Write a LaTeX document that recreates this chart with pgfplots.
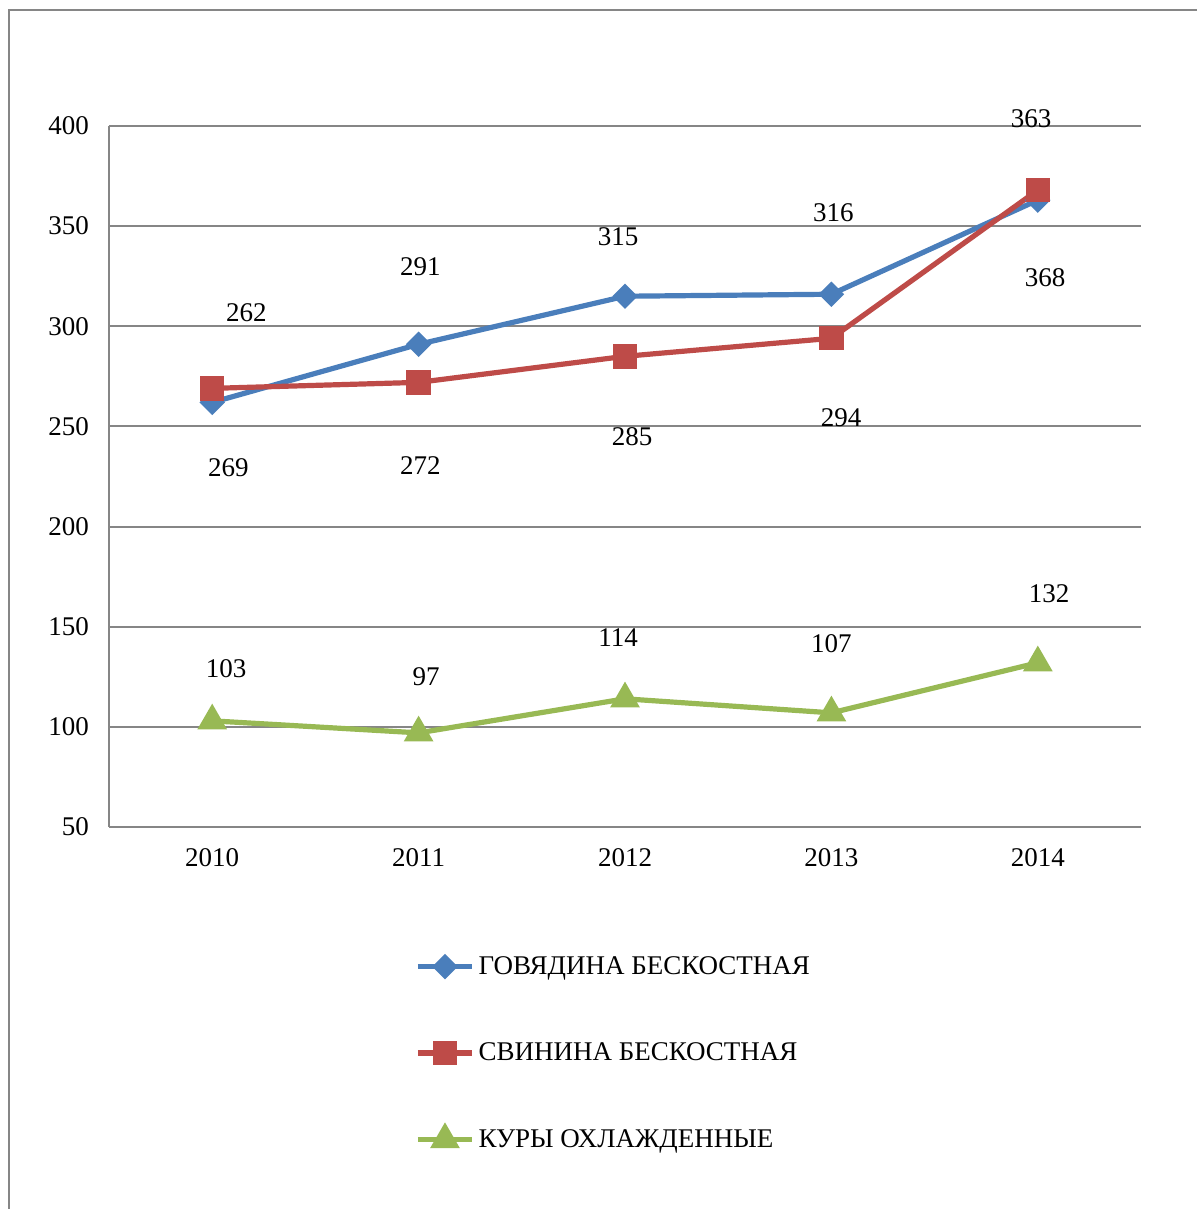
\documentclass[border=0pt]{standalone}
\usepackage{fontspec}
\setmainfont{Liberation Serif}
\usepackage{pgfplots}
\pgfplotsset{compat=1.18}
\definecolor{beef}{HTML}{4A7EBB}
\definecolor{pork}{HTML}{BE4B48}
\definecolor{chick}{HTML}{98B954}
\definecolor{gridgray}{HTML}{868686}
\begin{document}
\begin{tikzpicture}[font=\fontsize{13.5}{16}\selectfont]
\path[use as bounding box] (0,0) rectangle (598.5pt,604.5pt);
\draw[gridgray, line width=1pt] (4.5pt,0pt) -- (4.5pt,599.5pt) -- (598.5pt,599.5pt);
\begin{axis}[
  at={(54.5pt,191pt)}, anchor=south west,
  width=516pt, height=350.5pt, scale only axis,
  xmin=2009.5, xmax=2014.5,
  ymin=50, ymax=400,
  xtick={2010,2011,2012,2013,2014},
  ytick={50,100,150,200,250,300,350,400},
  /pgf/number format/1000 sep={},
  /pgf/number format/assume math mode=true,
  axis lines*=left,
  axis line style={gridgray, line width=1pt},
  ymajorgrids, grid style={gridgray, line width=1pt},
  major tick length=0pt,
  yticklabel style={xshift=-6.5pt},
  xticklabel style={yshift=-7pt},
  clip=false,
  legend style={draw=none, inner sep=0pt, at={(0.2965,-0.178)}, anchor=north west,
    row sep=28.8pt, font=\fontsize{13.5}{16}\selectfont},
  legend cell align=left,
  legend image code/.code={\draw[mark repeat=2, mark phase=2] plot coordinates {(0pt,0pt) (13.5pt,0pt) (27pt,0pt)};},
]
\addplot[beef, line width=2.6pt, mark=square*, mark size=3.2pt, mark options={solid, rotate=45}]
  coordinates {(2010,262) (2011,291) (2012,315) (2013,316) (2014,363)};
\addlegendentry{ГОВЯДИНА БЕСКОСТНАЯ}
\addplot[pork, line width=2.6pt, mark=square*, mark size=4.8pt, mark options={solid}]
  coordinates {(2010,269) (2011,272) (2012,285) (2013,294) (2014,368)};
\addlegendentry{СВИНИНА БЕСКОСТНАЯ}
\addplot[chick, line width=2.6pt, mark=triangle*, mark size=6pt, mark options={solid}]
  coordinates {(2010,103) (2011,97) (2012,114) (2013,107) (2014,132)};
\addlegendentry{КУРЫ ОХЛАЖДЕННЫЕ}

% data labels (placed as in the original)
\node at (axis cs:2010.165,306.6) {262};
\node at (axis cs:2011.008,329.6) {291};
\node at (axis cs:2011.967,344.6) {315};
\node at (axis cs:2013.009,356.6) {316};
\node at (axis cs:2013.968,403.5) {363};
\node at (axis cs:2010.078,229.3) {269};
\node at (axis cs:2011.008,230.3) {272};
\node at (axis cs:2012.035,244.7) {285};
\node at (axis cs:2013.047,254.2) {294};
\node at (axis cs:2014.036,324.1) {368};
\node at (axis cs:2010.068,128.9) {103};
\node at (axis cs:2011.037,124.9) {97};
\node at (axis cs:2011.967,144.4) {114};
\node at (axis cs:2013.000,141.4) {107};
\node at (axis cs:2014.055,166.4) {132};
\end{axis}
\end{tikzpicture}
\end{document}
